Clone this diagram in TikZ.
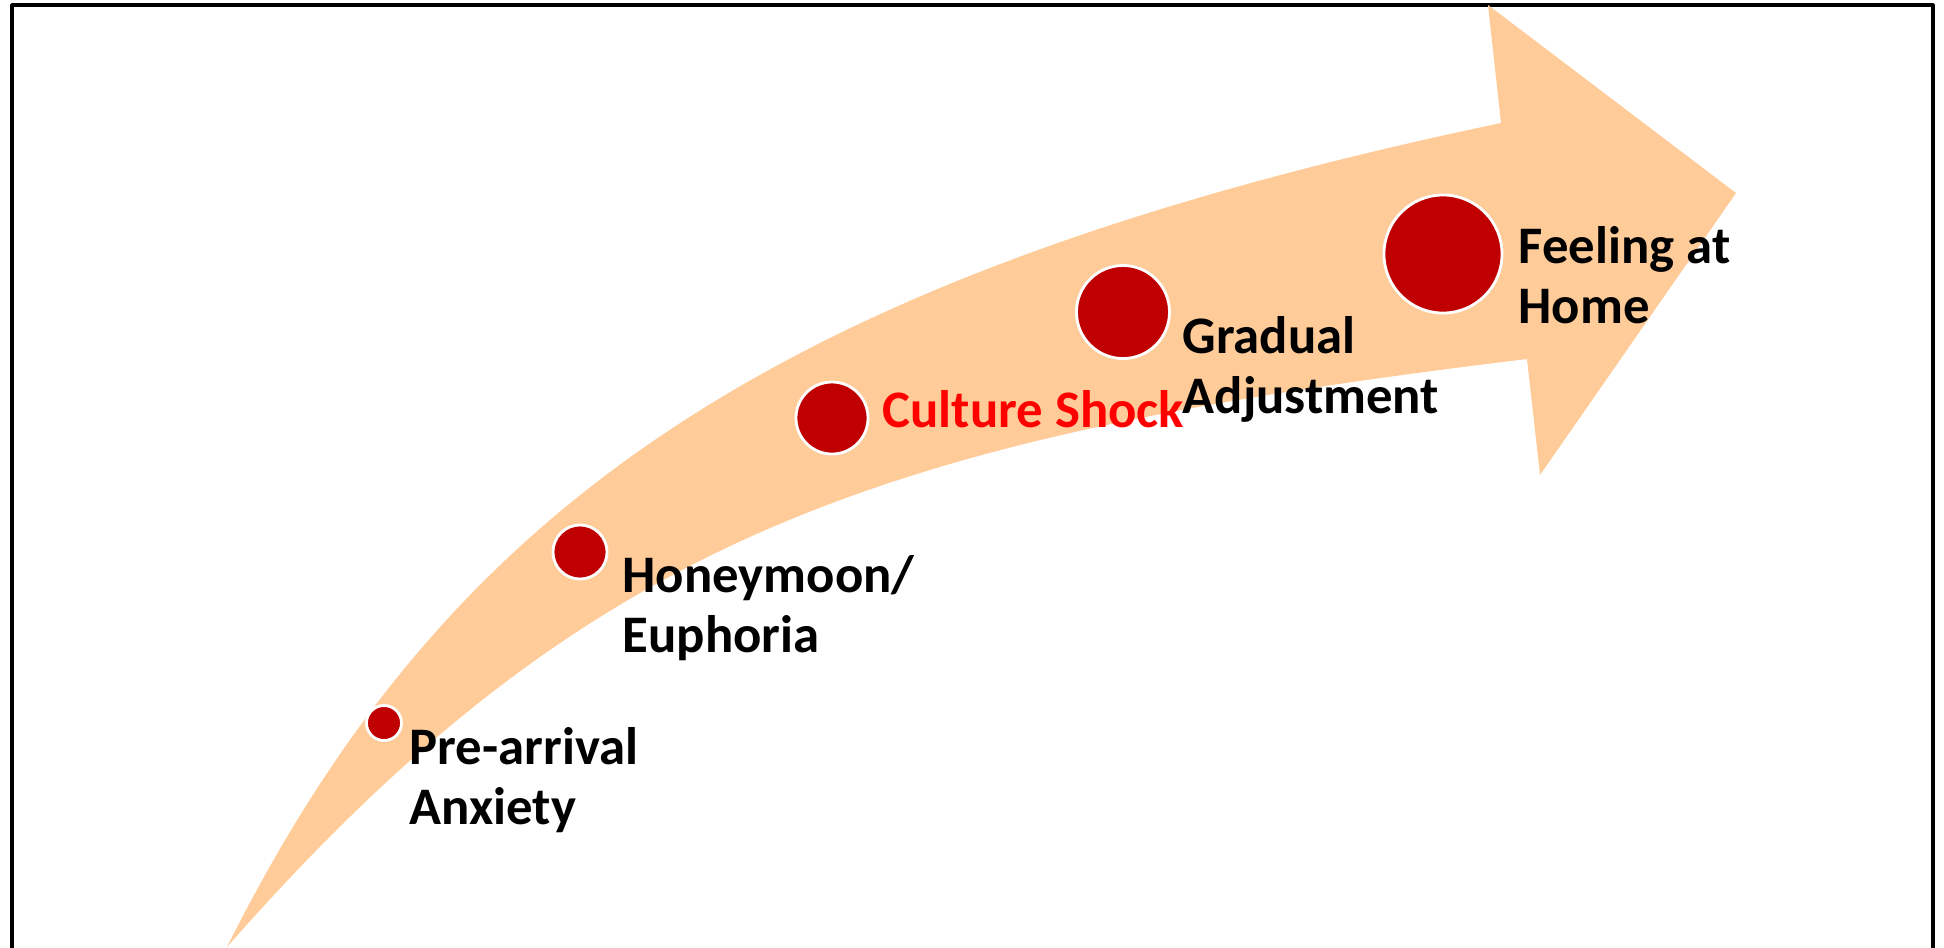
\documentclass[tikz,border=0pt]{standalone}
\usepackage{fontspec}
\setmainfont{Carlito}
\definecolor{peach}{RGB}{255,204,153}
\definecolor{dotred}{RGB}{192,0,0}
\definecolor{shockred}{RGB}{255,0,0}
\begin{document}
\begin{tikzpicture}[line cap=round,line join=round,x=0.01cm,y=-0.01cm,
		stage/.style={circle,fill=dotred,draw=white,line width=0.8pt,inner sep=0pt},
		stagetext/.style={anchor=base west,align=left,inner sep=0pt,font=\fontsize{15}{17}\selectfont\bfseries}]
	\useasboundingbox (0,0) rectangle (1944,947);
	\clip (0,0) rectangle (1944,947);
	\draw [line width=0.9pt] (12,5) rectangle (1933,990);
	% curved arrow
	\fill [peach] (227,947) .. controls (442,518) and (757,279) .. (1501,123)
		-- (1488,5) -- (1736,193) -- (1540,475) -- (1527,359)
		.. controls (883,437) and (590,534) .. (227,947) -- cycle;
	% stages
	\node [stage,minimum size=0.35cm] (pre) at (384,723) {};
	\node [stage,minimum size=0.54cm] (honey) at (580,552) {};
	\node [stage,minimum size=0.72cm] (shock) at (832,418) {};
	\node [stage,minimum size=0.93cm] (gradual) at (1123,312) {};
	\node [stage,minimum size=1.18cm] (home) at (1443,254) {};
	\node [stagetext] (preText) at (409,824) {Pre-arrival\\Anxiety};
	\node [stagetext] (honeyText) at (622,652) {Honeymoon/\\Euphoria};
	\node [stagetext,text=shockred] (shockText) at (882,427) {Culture Shock};
	\node [stagetext] (gradualText) at (1182,413) {Gradual\\Adjustment};
	\node [stagetext] (homeText) at (1518,323) {Feeling at\\Home};
\end{tikzpicture}
\end{document}
